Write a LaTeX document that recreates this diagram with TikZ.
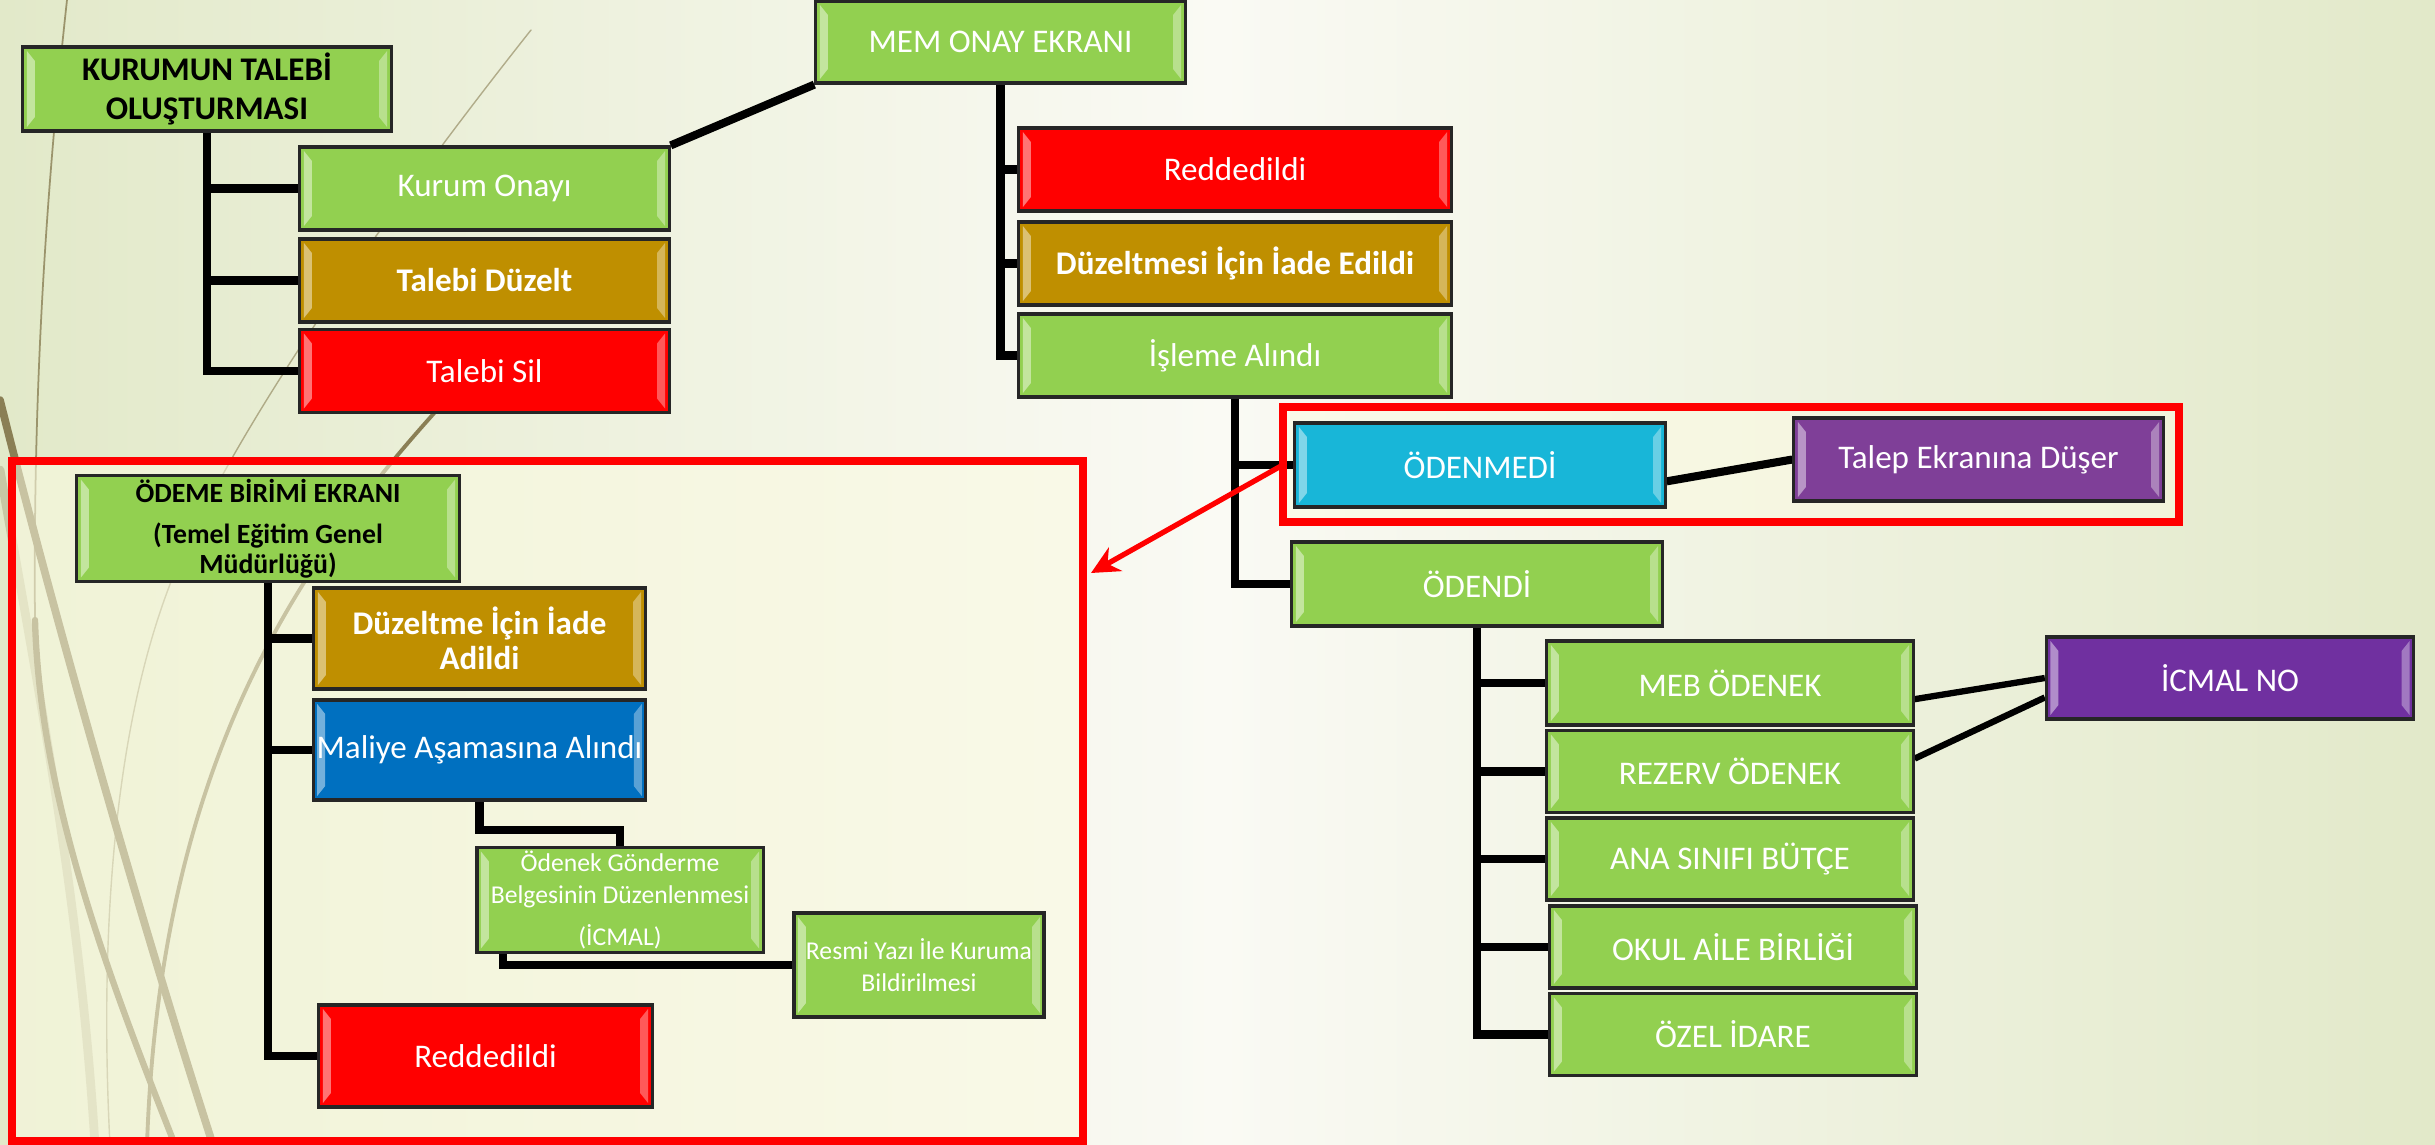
\documentclass[tikz,border=0pt]{standalone}
\usepackage{fontspec}
\setmainfont{Carlito}
\usetikzlibrary{arrows.meta}

\definecolor{boxgreen}{RGB}{146,208,80}
\definecolor{boxgold}{RGB}{191,143,0}
\definecolor{boxred}{RGB}{255,0,0}
\definecolor{boxcyan}{RGB}{24,182,216}
\definecolor{boxblue}{RGB}{0,112,192}
\definecolor{boxplum}{RGB}{127,63,152}
\definecolor{boxviolet}{RGB}{112,48,160}
\definecolor{bgside}{RGB}{226,233,201}
\definecolor{bgmid}{RGB}{250,250,244}
\definecolor{olive}{RGB}{138,127,85}
\definecolor{cream}{RGB}{252,251,226}

\pgfdeclarelayer{bg}
\pgfdeclarelayer{mid}
\pgfsetlayers{bg,mid,main}

\begin{document}
\begin{tikzpicture}[x=0.01cm, y=-0.01cm,
		bevel/.style={path picture={
			\fill[white, opacity=.45] ([shift={(0.04cm,-0.04cm)}]path picture bounding box.north west) -- ++(0.08cm,-0.1cm) -- ([shift={(0.12cm,0.14cm)}]path picture bounding box.south west) -- ++(-0.08cm,-0.1cm) -- cycle;
			\fill[white, opacity=.35] ([shift={(-0.04cm,-0.04cm)}]path picture bounding box.north east) -- ++(-0.08cm,-0.1cm) -- ([shift={(-0.12cm,0.14cm)}]path picture bounding box.south east) -- ++(0.08cm,-0.1cm) -- cycle;
		}},
		box/.style={draw=black!85, line width=0.9pt, fill=#1, text=white, bevel, align=center, inner sep=1pt,
			minimum width=3.69cm, minimum height=0.83cm, font=\fontsize{9.4}{11}\selectfont},
		small/.style={font=\fontsize{7.3}{9}\selectfont},
		conn/.style={line width=2.3pt, black},
		thin conn/.style={line width=1.8pt, black},
		frame/.style={fill=cream, fill opacity=.55, outer sep=0pt, inner sep=0pt},
		frameline/.style={draw=red, line width=2.3pt},
		redarrow/.style={red, line width=1.5pt, -{Stealth[length=0.28cm, width=0.27cm]}},
		deco/.style={olive, line cap=round}]
	\useasboundingbox (0,0) rectangle (2435,1145);

	% Background
	\begin{pgfonlayer}{bg}
		\shade[left color=bgside, right color=bgside, middle color=bgmid] (0,0) rectangle (2435,1145);
		\draw[deco, line width=0.5pt, opacity=.8] (67,0) .. controls (45,200) and (33,400) .. (35,620);
		\draw[deco, line width=1.8pt] (35,620) .. controls (40,800) and (110,980) .. (175,1145);
		\draw[deco, line width=2.2pt] (0,400) .. controls (60,640) and (150,950) .. (213,1145);
		\draw[deco, line width=0.4pt, opacity=.6] (531,30) .. controls (420,170) and (250,400) .. (180,560) .. controls (110,720) and (100,950) .. (110,1145);
		\draw[deco, line width=1.1pt] (446,400) .. controls (300,560) and (160,760) .. (147,1145);
		\draw[deco, line width=2.5pt, opacity=.3] (0,470) .. controls (40,700) and (80,900) .. (95,1145);
		% Frames
		\node[frame, minimum width=8.96cm, minimum height=1.15cm] (unpaidframe) at (1731,464.5) {};
		\node[frame, minimum width=10.71cm, minimum height=6.80cm] (payframe) at (547.5,801) {};
	\end{pgfonlayer}

	% Kurum
	\node[box=boxgreen, text=black, minimum width=3.68cm, minimum height=0.84cm] (kurum) at (207,89) {\textbf{KURUMUN TALEBİ}\\\textbf{OLUŞTURMASI}};
	\node[box=boxgreen] (onay) at (484.5,188.5) {Kurum Onayı};
	\node[box=boxgold] (duzelt) at (484.5,280.5) {\textbf{Talebi Düzelt}};
	\node[box=boxred] (sil) at (484.5,371) {Talebi Sil};

	% MEM
	\node[box=boxgreen, minimum height=0.82cm] (mem) at (1000.5,42) {MEM ONAY EKRANI};
	\node[box=boxred, minimum width=4.32cm] (mred) at (1235,169.5) {Reddedildi};
	\node[box=boxgold, minimum width=4.32cm] (mduz) at (1235,263.5) {\textbf{Düzeltmesi İçin İade Edildi}};
	\node[box=boxgreen, minimum width=4.32cm] (isleme) at (1235,355.5) {İşleme Alındı};

	% Odeme durumu
	\node[box=boxcyan, minimum width=3.70cm, minimum height=0.84cm] (odenmedi) at (1480,465) {ÖDENMEDİ};
	\node[box=boxplum] (talep) at (1978.5,459.5) {Talep Ekranına Düşer};
	\node[box=boxgreen, minimum width=3.70cm, minimum height=0.84cm] (odendi) at (1477,584) {ÖDENDİ};
	\node[box=boxgreen, minimum width=3.66cm, minimum height=0.84cm] (meb) at (1730,683) {MEB ÖDENEK};
	\node[box=boxgreen, minimum width=3.66cm, minimum height=0.82cm] (rezerv) at (1730,771.5) {REZERV ÖDENEK};
	\node[box=boxgreen, minimum width=3.66cm, minimum height=0.82cm] (anasinif) at (1730,859) {ANA SINIFI BÜTÇE};
	\node[box=boxgreen, minimum width=3.66cm, minimum height=0.82cm] (okul) at (1733,947) {OKUL AİLE BİRLİĞİ};
	\node[box=boxgreen, minimum width=3.66cm, minimum height=0.82cm] (ozel) at (1733,1034.5) {ÖZEL İDARE};
	\node[box=boxviolet, minimum width=3.67cm, minimum height=0.82cm] (icmal) at (2230,678) {İCMAL NO};

	% Odeme birimi
	\node[box=boxgreen, text=black, minimum width=3.82cm, minimum height=1.05cm, font=\fontsize{7.9}{8.6}\selectfont\bfseries] (odeme) at (268,528.5) {ÖDEME BİRİMİ EKRANI\\[3pt](Temel Eğitim Genel\\Müdürlüğü)};
	\node[box=boxgold, minimum width=3.31cm, minimum height=1.01cm, font=\fontsize{9.4}{9.8}\selectfont\bfseries] (odduz) at (479.5,638.5) {Düzeltme İçin İade\\Adildi};
	\node[box=boxblue, minimum width=3.31cm, minimum height=1.00cm] (maliye) at (479.5,750) {Maliye Aşamasına Alındı};
	\node[box=boxgreen, small, minimum width=2.86cm, minimum height=1.04cm] (odenek) at (620,900) {Ödenek Gönderme\\Belgesinin Düzenlenmesi\\[3pt](İCMAL)};
	\node[box=boxgreen, small, minimum width=2.50cm, minimum height=1.04cm] (resmi) at (919,965) {Resmi Yazı İle Kuruma\\Bildirilmesi};
	\node[box=boxred, minimum width=3.33cm, minimum height=1.02cm] (odred) at (485.5,1056) {Reddedildi};

	\begin{pgfonlayer}{mid}
		% Connectors
		\foreach \n in {onay,duzelt,sil}
			\draw[conn] (kurum.south) |- (\n.west);
		\draw[conn] (onay.north east) -- (mem.south west);
		\foreach \n in {mred,mduz,isleme}
			\draw[conn] (mem.south) |- (\n.west);
		\foreach \n in {odenmedi,odendi}
			\draw[conn] (isleme.south) |- (\n.west);
		\draw[conn] (odenmedi.-5) -- (talep.west);
		\foreach \n in {meb,rezerv,anasinif,okul,ozel}
			\draw[conn] (odendi.south) |- (\n.west);
		\draw[thin conn] (meb.-5) -- (icmal.west);
		\draw[thin conn] (rezerv.4) -- (icmal.186);
		\foreach \n in {odduz,maliye,odred}
			\draw[conn] (odeme.south) |- (\n.west);
		\draw[conn] (maliye.south) -- ++(0,28) -| (odenek.north);
		\draw[conn] ([xshift=0.28cm]odenek.south west) |- (resmi.west);
		% Frame borders
		\draw[frameline] (unpaidframe.south west) rectangle (unpaidframe.north east);
		\draw[frameline] (payframe.south west) rectangle (payframe.north east);
	\end{pgfonlayer}

	% Arrow
	\coordinate (arrowtip) at (1091,573);
	\draw[redarrow] (unpaidframe.west |- odenmedi.west) -- (arrowtip);
\end{tikzpicture}
\end{document}
